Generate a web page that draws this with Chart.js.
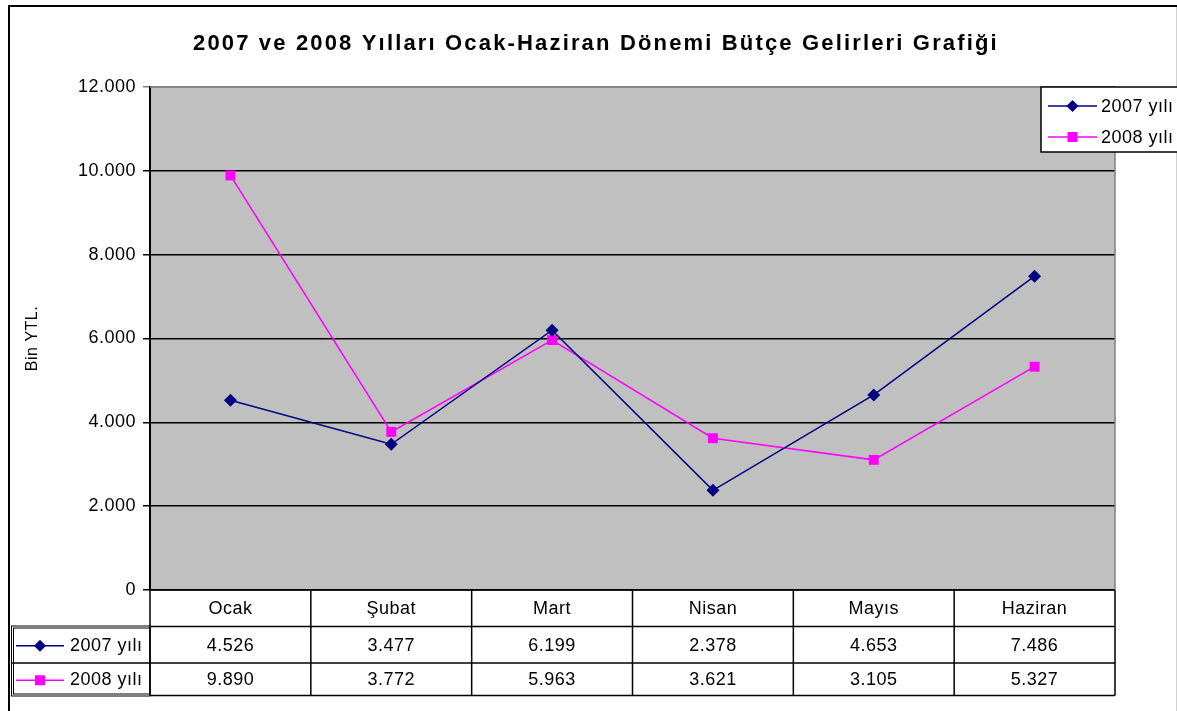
<!DOCTYPE html>
<html lang="tr">
<head>
  <meta charset="UTF-8">
  <title>Bütçe Gelirleri Grafiği</title>
  <script src="https://cdn.jsdelivr.net/npm/chart.js"></script>
  <style>
    html, body { margin: 0; padding: 0; background: #fff; }
    #wrap { width: 1177px; height: 711px; position: relative; }
  </style>
</head>
<body>
  <div id="wrap"><canvas id="chart" width="1177" height="711"></canvas></div>
  <script>
    // Data
    const months = ['Ocak', 'Şubat', 'Mart', 'Nisan', 'Mayıs', 'Haziran'];
    const seriesNames = ['2007 yılı', '2008 yılı'];
    const values2007 = [4526, 3477, 6199, 2378, 4653, 7486];
    const values2008 = [9890, 3772, 5963, 3621, 3105, 5327];
    const yTicks = [0, 2000, 4000, 6000, 8000, 10000, 12000];

    const titleText = '2007 ve 2008 Yılları Ocak-Haziran Dönemi Bütçe Gelirleri Grafiği';
    const FONT = 'Arial, "Liberation Sans", sans-serif';
    const NAVY = '#000080';
    const MAGENTA = '#FF00FF';
    const SPACING = '0.5px';

    // Turkish style thousands separator: 12.000
    function fmt(v) {
      return String(v).replace(/\B(?=(\d{3})+(?!\d))/g, '.');
    }

    function marker(ctx, kind, x, y, color) {
      ctx.save();
      ctx.fillStyle = color;
      ctx.beginPath();
      if (kind === 'diamond') {
        ctx.moveTo(x, y - 6); ctx.lineTo(x + 6, y); ctx.lineTo(x, y + 6); ctx.lineTo(x - 6, y);
        ctx.closePath();
      } else {
        ctx.rect(x - 5, y - 5, 10, 10);
      }
      ctx.fill();
      ctx.restore();
    }

    function keyLine(ctx, i, x1, x2, y) {
      const color = i === 0 ? NAVY : MAGENTA;
      ctx.save();
      ctx.strokeStyle = color;
      ctx.lineWidth = 1.5;
      ctx.beginPath(); ctx.moveTo(x1, y); ctx.lineTo(x2, y); ctx.stroke();
      ctx.restore();
      marker(ctx, i === 0 ? 'diamond' : 'square', (x1 + x2) / 2, y, color);
    }

    const decorPlugin = {
      id: 'decor',
      beforeDraw(chart) {
        const { ctx, chartArea: a } = chart;
        ctx.save();
        ctx.fillStyle = '#fff';
        ctx.fillRect(0, 0, chart.width, chart.height);
        // plot area background
        ctx.fillStyle = '#C0C0C0';
        ctx.fillRect(a.left, a.top, a.right - a.left, a.bottom - a.top);
        // outer chart border
        ctx.strokeStyle = '#000';
        ctx.lineWidth = 2;
        ctx.beginPath(); ctx.moveTo(9, 711); ctx.lineTo(9, 6); ctx.lineTo(1177, 6); ctx.stroke();
        ctx.strokeStyle = '#d0d0d0';
        ctx.lineWidth = 1;
        ctx.beginPath(); ctx.moveTo(1176.5, 7); ctx.lineTo(1176.5, 711); ctx.stroke();
        // title
        ctx.fillStyle = '#000';
        ctx.font = 'bold 22px ' + FONT;
        ctx.letterSpacing = '0px';
        const w = ctx.measureText(titleText).width;
        ctx.letterSpacing = ((804 - w) / (titleText.length - 1)).toFixed(2) + 'px';
        ctx.textAlign = 'left';
        ctx.textBaseline = 'alphabetic';
        ctx.fillText(titleText, 193, 50);
        ctx.restore();
        ctx.letterSpacing = SPACING;
      },
      afterDraw(chart) {
        const { ctx, chartArea: a } = chart;
        const xs = chart.scales.x;
        const step = xs.getPixelForValue(1) - xs.getPixelForValue(0);
        ctx.save();
        ctx.letterSpacing = SPACING;
        // plot border: gray top / right
        ctx.strokeStyle = '#808080';
        ctx.lineWidth = 1.5;
        ctx.beginPath(); ctx.moveTo(a.left, a.top); ctx.lineTo(a.right, a.top); ctx.lineTo(a.right, a.bottom); ctx.stroke();

        // data table
        const rowTop = a.bottom, r1 = 626.5, r2 = 663, r3 = 695.5;
        ctx.fillStyle = '#fff';
        ctx.fillRect(11, r1, a.right - 11, r3 - r1);
        ctx.strokeStyle = '#000';
        ctx.lineWidth = 1.5;
        ctx.beginPath();
        ctx.moveTo(a.left, rowTop); ctx.lineTo(a.right, rowTop);
        ctx.moveTo(a.left, r1); ctx.lineTo(a.right, r1);
        ctx.moveTo(11, r2); ctx.lineTo(a.right, r2);
        ctx.moveTo(a.left, r3); ctx.lineTo(a.right, r3);
        for (let i = 0; i <= months.length; i++) {
          const x = xs.getPixelForValue(0) - step / 2 + i * step;
          ctx.moveTo(x, rowTop); ctx.lineTo(x, r3);
        }
        ctx.stroke();
        // double outline of the series header cells
        ctx.lineWidth = 1;
        ctx.strokeRect(11.5, r1 - 0.5, a.left - 11.5, r3 - r1 + 1);
        ctx.strokeRect(13.5, r1 + 1.5, a.left - 13.5, r3 - r1 - 3);

        ctx.fillStyle = '#000';
        ctx.font = '18px ' + FONT;
        ctx.textAlign = 'center';
        ctx.textBaseline = 'middle';
        const rows = [values2007, values2008];
        const rowMid = [(r1 + r2) / 2 + 1, (r2 + r3) / 2 + 1];
        months.forEach((m, i) => {
          const x = xs.getPixelForValue(i);
          ctx.fillText(m, x, (rowTop + r1) / 2 + 1);
          rows.forEach((vals, j) => ctx.fillText(fmt(vals[i]), x, rowMid[j]));
        });
        ctx.textAlign = 'left';
        seriesNames.forEach((name, j) => {
          keyLine(ctx, j, 16, 64, rowMid[j]);
          ctx.fillText(name, 70, rowMid[j]);
        });

        // legend box
        ctx.fillStyle = '#fff';
        ctx.fillRect(1041, 87, 140, 65);
        ctx.strokeStyle = '#000';
        ctx.lineWidth = 1.5;
        ctx.strokeRect(1041, 87, 140, 65);
        ctx.fillStyle = '#000';
        const ly = [106, 137];
        seriesNames.forEach((name, j) => {
          keyLine(ctx, j, 1048, 1097, ly[j]);
          ctx.fillText(name, 1101, ly[j] + 1);
        });
        ctx.restore();
        ctx.letterSpacing = '0px';
      }
    };

    new Chart(document.getElementById('chart'), {
      type: 'line',
      data: {
        labels: months,
        datasets: [
          {
            label: seriesNames[0],
            data: values2007,
            borderColor: NAVY,
            backgroundColor: NAVY,
            borderWidth: 1.5,
            pointStyle: 'rectRot',
            pointRadius: 6.5,
            pointBorderWidth: 0,
            tension: 0
          },
          {
            label: seriesNames[1],
            data: values2008,
            borderColor: MAGENTA,
            backgroundColor: MAGENTA,
            borderWidth: 1.5,
            pointStyle: 'rect',
            pointRadius: 7,
            pointBorderWidth: 0,
            tension: 0
          }
        ]
      },
      options: {
        responsive: false,
        animation: false,
        layout: { padding: { left: 0, right: 62, top: 87, bottom: 121 } },
        plugins: {
          legend: { display: false },
          title: { display: false },
          tooltip: { enabled: false }
        },
        scales: {
          x: { display: false, offset: true },
          y: {
            min: 0,
            max: 12000,
            afterFit(scale) { scale.width = 150; },
            afterBuildTicks(scale) { scale.ticks = yTicks.map(v => ({ value: v })); },
            ticks: {
              color: '#000',
              padding: 7,
              font: { family: FONT, size: 18 },
              callback: v => fmt(v)
            },
            grid: {
              color: ctx => (ctx.tick && ctx.tick.value === 12000 ? '#808080' : '#000'),
              lineWidth: 1.5,
              tickLength: 7,
              drawTicks: true
            },
            border: { color: '#000', width: 2 },
            title: {
              display: true,
              text: 'Bin YTL.',
              color: '#000',
              font: { family: FONT, size: 16 },
              padding: { top: 23, bottom: 0 }
            }
          }
        }
      },
      plugins: [decorPlugin]
    });
  </script>
</body>
</html>
